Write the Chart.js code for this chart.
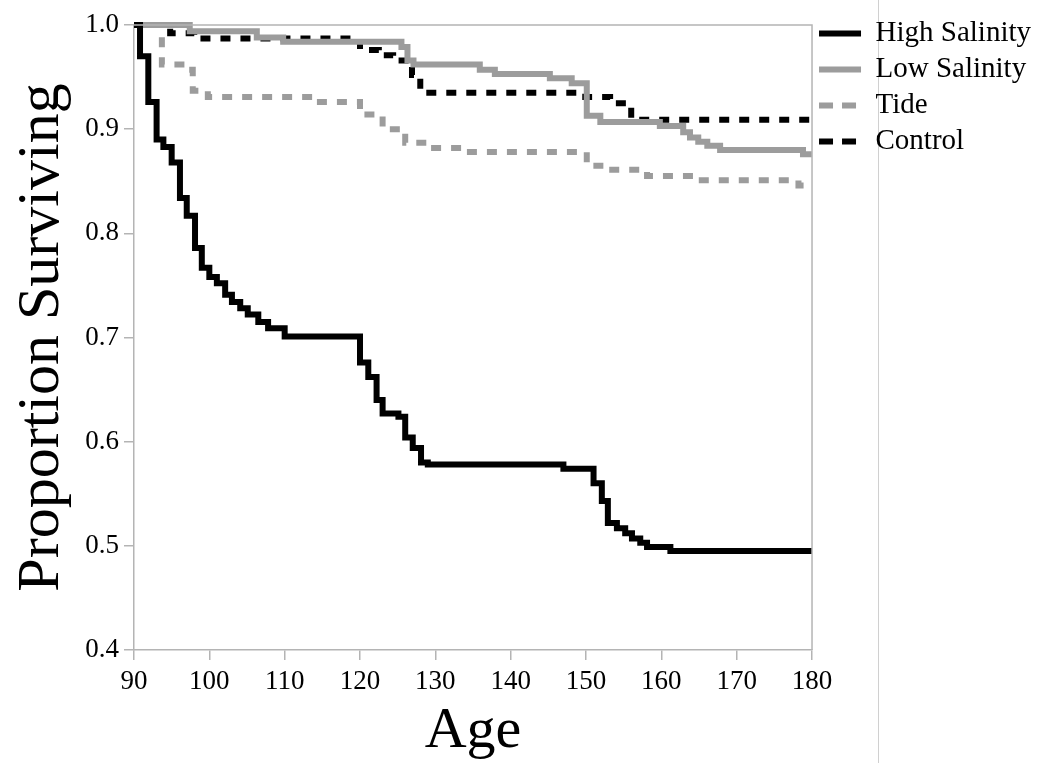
<!DOCTYPE html>
<html>
<head>
<meta charset="utf-8">
<script src="https://cdn.jsdelivr.net/npm/chart.js@4.4.1/dist/chart.umd.min.js"></script>
<style>
  html, body { margin: 0; padding: 0; background: #ffffff; }
  #wrap { position: relative; width: 1041px; height: 763px; }
  #vline { position: absolute; left: 878px; top: 0; width: 1px; height: 763px; background: #d0d0d0; z-index: 0; }
  #c { position: absolute; left: 0; top: 0; z-index: 1; }
</style>
</head>
<body>
<div id="wrap">
  <div id="vline"></div>
  <canvas id="c" width="1041" height="763"></canvas>
</div>
<script>
// ---- Data ----
const seriesNames = ["High Salinity", "Low Salinity", "Tide", "Control"];

const highAge = [90, 90.8, 91.9, 93.0, 93.9, 95.0, 96.1, 97.0, 98.1, 99.0, 100.0, 101.0, 102.1, 103.0, 104.1, 105.1, 106.5, 107.8, 110.0, 120.0, 121.1, 122.2, 123.0, 125.1, 126.0, 127.0, 128.1, 129.0, 147.0, 151.0, 152.1, 152.9, 154.1, 155.2, 156.1, 157.2, 158.1, 161.2, 180];
const highVal = [1.0, 0.970, 0.926, 0.890, 0.883, 0.868, 0.834, 0.817, 0.786, 0.767, 0.758, 0.752, 0.741, 0.734, 0.728, 0.722, 0.715, 0.709, 0.701, 0.676, 0.662, 0.640, 0.627, 0.624, 0.604, 0.594, 0.580, 0.578, 0.574, 0.560, 0.543, 0.522, 0.517, 0.512, 0.507, 0.503, 0.499, 0.495, 0.495];

const lowAge = [90, 97.4, 106.3, 109.8, 125.5, 126.3, 127.1, 135.9, 137.9, 145.2, 148.1, 150.1, 151.9, 159.8, 162.9, 163.8, 164.9, 166.1, 167.8, 178.8, 180];
const lowVal = [1.0, 0.994, 0.988, 0.984, 0.979, 0.966, 0.962, 0.957, 0.953, 0.949, 0.944, 0.913, 0.907, 0.903, 0.897, 0.892, 0.888, 0.884, 0.880, 0.876, 0.876];

const tideAge = [90, 93.7, 96.8, 97.8, 99.8, 113.8, 120.0, 123.0, 126.0, 128.9, 133.5, 150.1, 152.5, 158.1, 164.2, 178.2, 180];
const tideVal = [1.0, 0.962, 0.957, 0.937, 0.931, 0.926, 0.914, 0.900, 0.887, 0.882, 0.878, 0.865, 0.861, 0.855, 0.851, 0.846, 0.846];

const ctrlAge = [90, 94.8, 98.0, 120.0, 122.5, 124.4, 126.9, 128.0, 149.9, 153.2, 156.0, 180];
const ctrlVal = [1.0, 0.992, 0.987, 0.976, 0.971, 0.966, 0.952, 0.935, 0.931, 0.925, 0.909, 0.909];

const xTicks = [90, 100, 110, 120, 130, 140, 150, 160, 170, 180];
const yTicks = [0.4, 0.5, 0.6, 0.7, 0.8, 0.9, 1.0];

// ---- Build chart ----
const toPts = (xs, ys) => xs.map((x, i) => ({ x: x, y: ys[i] }));
const SERIF = "'Liberation Serif', 'Times New Roman', serif";
const GRAY_LINE = '#9c9c9c';
const AXIS = '#b4b4b4';
const LINE_W = 6;

const frame = {
  id: 'frame',
  afterDraw(chart) {
    const a = chart.chartArea, ctx = chart.ctx;
    ctx.save();
    ctx.strokeStyle = AXIS;
    ctx.lineWidth = 1.5;
    ctx.beginPath();
    ctx.moveTo(a.left, a.top);
    ctx.lineTo(a.right, a.top);
    ctx.lineTo(a.right, a.bottom);
    ctx.stroke();
    ctx.restore();
  }
};

const common = { pointRadius: 0, pointHoverRadius: 0, stepped: 'before', borderWidth: LINE_W, fill: false, clip: 8, borderCapStyle: 'butt', borderJoinStyle: 'miter' };

new Chart(document.getElementById('c'), {
  type: 'line',
  data: {
    datasets: [
      Object.assign({ label: seriesNames[0], data: toPts(highAge, highVal), borderColor: '#000000', backgroundColor: '#000000' }, common),
      Object.assign({ label: seriesNames[1], data: toPts(lowAge, lowVal), borderColor: GRAY_LINE, backgroundColor: GRAY_LINE }, common),
      Object.assign({ label: seriesNames[2], data: toPts(tideAge, tideVal), borderColor: GRAY_LINE, backgroundColor: GRAY_LINE, borderDash: [10, 10] }, common),
      Object.assign({ label: seriesNames[3], data: toPts(ctrlAge, ctrlVal), borderColor: '#000000', backgroundColor: '#000000', borderDash: [10, 10] }, common)
    ]
  },
  options: {
    responsive: false,
    animation: false,
    events: [],
    layout: { padding: { top: 12, right: 0, left: 0, bottom: 0 } },
    plugins: {
      tooltip: { enabled: false },
      legend: {
        position: 'right',
        align: 'start',
        labels: {
          font: { family: SERIF, size: 29 },
          color: '#000000',
          usePointStyle: true,
          pointStyle: 'line',
          pointStyleWidth: 42,
          padding: 7,
          generateLabels(chart) {
            return chart.data.datasets.map((ds, i) => ({
              text: ds.label,
              fillStyle: ds.borderColor,
              strokeStyle: ds.borderColor,
              lineWidth: LINE_W,
              lineDash: ds.borderDash ? [14, 9] : [],
              lineCap: 'butt',
              pointStyle: 'line',
              hidden: false,
              fontColor: '#000000',
              datasetIndex: i
            }));
          }
        }
      }
    },
    scales: {
      x: {
        type: 'linear',
        min: 90, max: 180,
        afterBuildTicks(scale) { scale.ticks = xTicks.map(v => ({ value: v })); },
        afterFit(scale) { scale.height = 113; },
        ticks: { font: { family: SERIF, size: 27 }, color: '#000000', padding: 6, maxRotation: 0, autoSkip: false },
        grid: { drawOnChartArea: false, drawTicks: true, tickLength: 10, color: AXIS, lineWidth: 1.5 },
        border: { color: AXIS, width: 1.5 },
        title: { display: true, text: 'Age', font: { family: SERIF, size: 58, lineHeight: 1.0 }, color: '#000000', padding: { top: 0, bottom: 2 } }
      },
      y: {
        type: 'linear',
        min: 0.4, max: 1.0,
        afterBuildTicks(scale) { scale.ticks = yTicks.map(v => ({ value: v })); },
        afterFit(scale) { scale.width = 134; scale.paddingTop = 25; },
        ticks: { font: { family: SERIF, size: 27 }, color: '#000000', padding: 5, callback: v => Number(v).toFixed(1) },
        grid: { drawOnChartArea: false, drawTicks: true, tickLength: 10, color: AXIS, lineWidth: 1.5 },
        border: { color: AXIS, width: 1.5 },
        title: { display: true, text: 'Proportion Surviving', font: { family: SERIF, size: 60 }, color: '#000000', padding: { top: 6, bottom: 0 } }
      }
    }
  },
  plugins: [frame]
});
</script>
</body>
</html>
